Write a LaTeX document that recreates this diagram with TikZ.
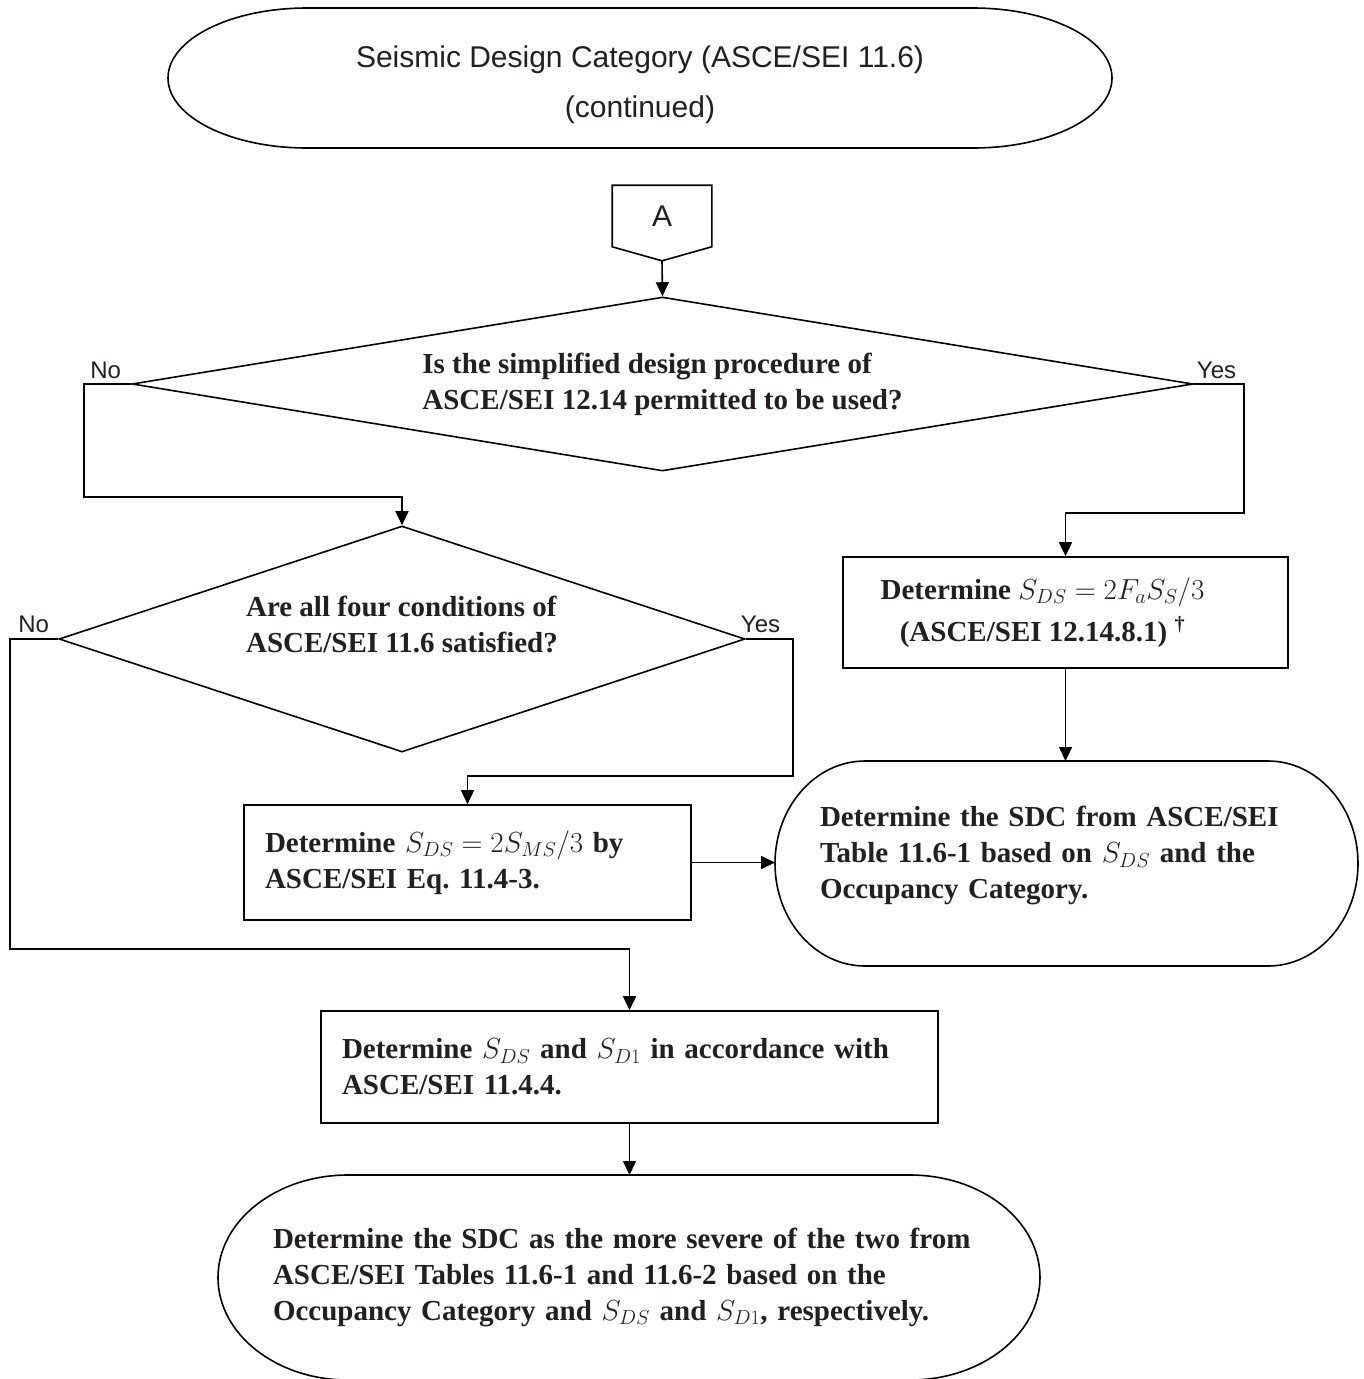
\RequirePackage{fix-cm}
\documentclass[tikz,border=0pt]{standalone}
\usepackage{fontspec}
\setmainfont{Liberation Serif}
\setsansfont{Liberation Sans}
\usetikzlibrary{shapes.geometric,arrows.meta}
\definecolor{ink}{RGB}{35,31,32}
% outline of a terminal node: name, x radius, y radius
\newcommand{\termline}[3]{%
  \draw ([xshift=#2]#1.north west) -- ([xshift=-#2]#1.north east)
    arc[start angle=90, end angle=-90, x radius=#2, y radius=#3]
    -- ([xshift=#2]#1.south west)
    arc[start angle=270, end angle=90, x radius=#2, y radius=#3] -- cycle;}

\begin{document}
\begin{tikzpicture}[x=1pt, y=-1pt, line width=1.6pt,
    txt/.style={text=ink, font=\fontsize{29}{36}\selectfont\bfseries\frenchspacing},
    lbl/.style={text=ink, font=\sffamily\fontsize{24}{28}\selectfont},
    decision/.style={txt, diamond, draw, inner sep=0pt, align=left},
    stepbox/.style={txt, rectangle, draw, inner ysep=0pt},
    terminal/.style={txt, rectangle, inner ysep=0pt, outer sep=0pt},
    arr/.style={-{Triangle[length=14pt,width=13pt]}}]
        \useasboundingbox (0,0) rectangle (1363,1379);

        % Titulo
        \node[terminal, font=\sffamily\fontsize{30}{50}\selectfont, align=center,
              minimum width=944pt, minimum height=140pt] (title) at (640,78)
              {\mbox{}\\[-14pt]Seismic Design Category (ASCE/SEI 11.6)\\(continued)};
        \termline{title}{139pt}{70pt}

        % Conector A
        \node[lbl, font=\sffamily\fontsize{30}{36}\selectfont, minimum width=98pt,
              minimum height=60pt, inner sep=0pt] (A) at (662,216) {A};
        \coordinate (Atip) at ([yshift=-14pt]A.south);
        \draw (A.north west) -- (A.north east) -- (A.south east) -- (Atip) -- (A.south west) -- cycle;

        % Decisiones
        \node[decision, aspect=6.1, minimum width=1061pt, minimum height=174pt] (d1) at (662.5,384)
              {Is the simplified design procedure of\\ASCE/SEI 12.14 permitted to be used?};
        \node[decision, aspect=3.04, minimum width=686pt, minimum height=226pt] (d2) at (402,639)
              {Are all four conditions of\\ASCE/SEI 11.6 satisfied?\\[-6pt]\mbox{}};

        % Cajas de calculo
        \node[stepbox, align=center, minimum width=445pt, minimum height=111pt] (b3) at (1065.5,612.5)
              {Determine $S_{DS} = 2F_aS_S/3$\hspace*{46pt}\\[6pt](ASCE/SEI 12.14.8.1)~\textsuperscript{\textdagger}\hspace*{46pt}};
        \node[stepbox, align=left, text width=405pt, inner xsep=21pt, minimum height=115pt] (b4) at (467.5,862.5)
              {Determine $S_{DS} = 2S_{MS}/3$ by\\ASCE/SEI Eq. 11.4-3.};
        \node[stepbox, align=left, text width=575pt, inner xsep=21pt, minimum height=112pt] (b5) at (629.5,1067)
              {Determine $S_{DS}$ and $S_{D1}$ in accordance with\\ASCE/SEI 11.4.4.};

        % Terminales
        \node[terminal, align=left, text width=493pt, inner xsep=45pt, minimum height=205pt] (e1) at (1066.5,863.5)
              {Determine the SDC from ASCE/SEI\\Table 11.6-1 based on $S_{DS}$ and the\\Occupancy Category.\\[-14pt]\mbox{}};
        \termline{e1}{90pt}{102.5pt}
        \node[terminal, align=left, text width=712pt, inner xsep=55pt, minimum height=205pt] (e2) at (629,1277.5)
              {Determine the SDC as the more severe of the two from\\ASCE/SEI Tables 11.6-1 and 11.6-2 based on the\\Occupancy Category and $S_{DS}$ and $S_{D1}$, respectively.};
        \termline{e2}{130pt}{102.5pt}

        % Etiquetas Si/No
        \node[lbl, anchor=base east] (no1) at ([xshift=-6pt,yshift=6pt]d1.west) {No};
        \node[lbl, anchor=base west] (yes1) at ([xshift=-1pt,yshift=6pt]d1.east) {Yes};
        \node[lbl, anchor=base east] (no2) at ([xshift=-5pt,yshift=7pt]d2.west) {No};
        \node[lbl, anchor=base west] (yes2) at ([xshift=-9pt,yshift=7pt]d2.east) {Yes};

        % Flechas
        \draw[arr] (Atip) -- (d1.north);
        \draw[arr] (d1.west) -- ++(-47,0) |- ([yshift=28pt]d2.north) -- (d2.north);
        \draw[arr] (d1.east) -- ++(50,0) |- ([yshift=43pt]b3.north) -- (b3.north);
        \draw[arr] (d2.west) -- ++(-48,0) |- ([yshift=61pt]b5.north) -- (b5.north);
        \draw[arr] (d2.east) -- ++(47,0) |- ([yshift=28pt]b4.north) -- (b4.north);
        \draw[arr] (b3.south) -- (b3.south |- e1.north);
        \draw[arr] (b4.east) -- (b4.east -| e1.west);
        \draw[arr] (b5.south) -- (b5.south |- e2.north);
    \end{tikzpicture}
\end{document}
